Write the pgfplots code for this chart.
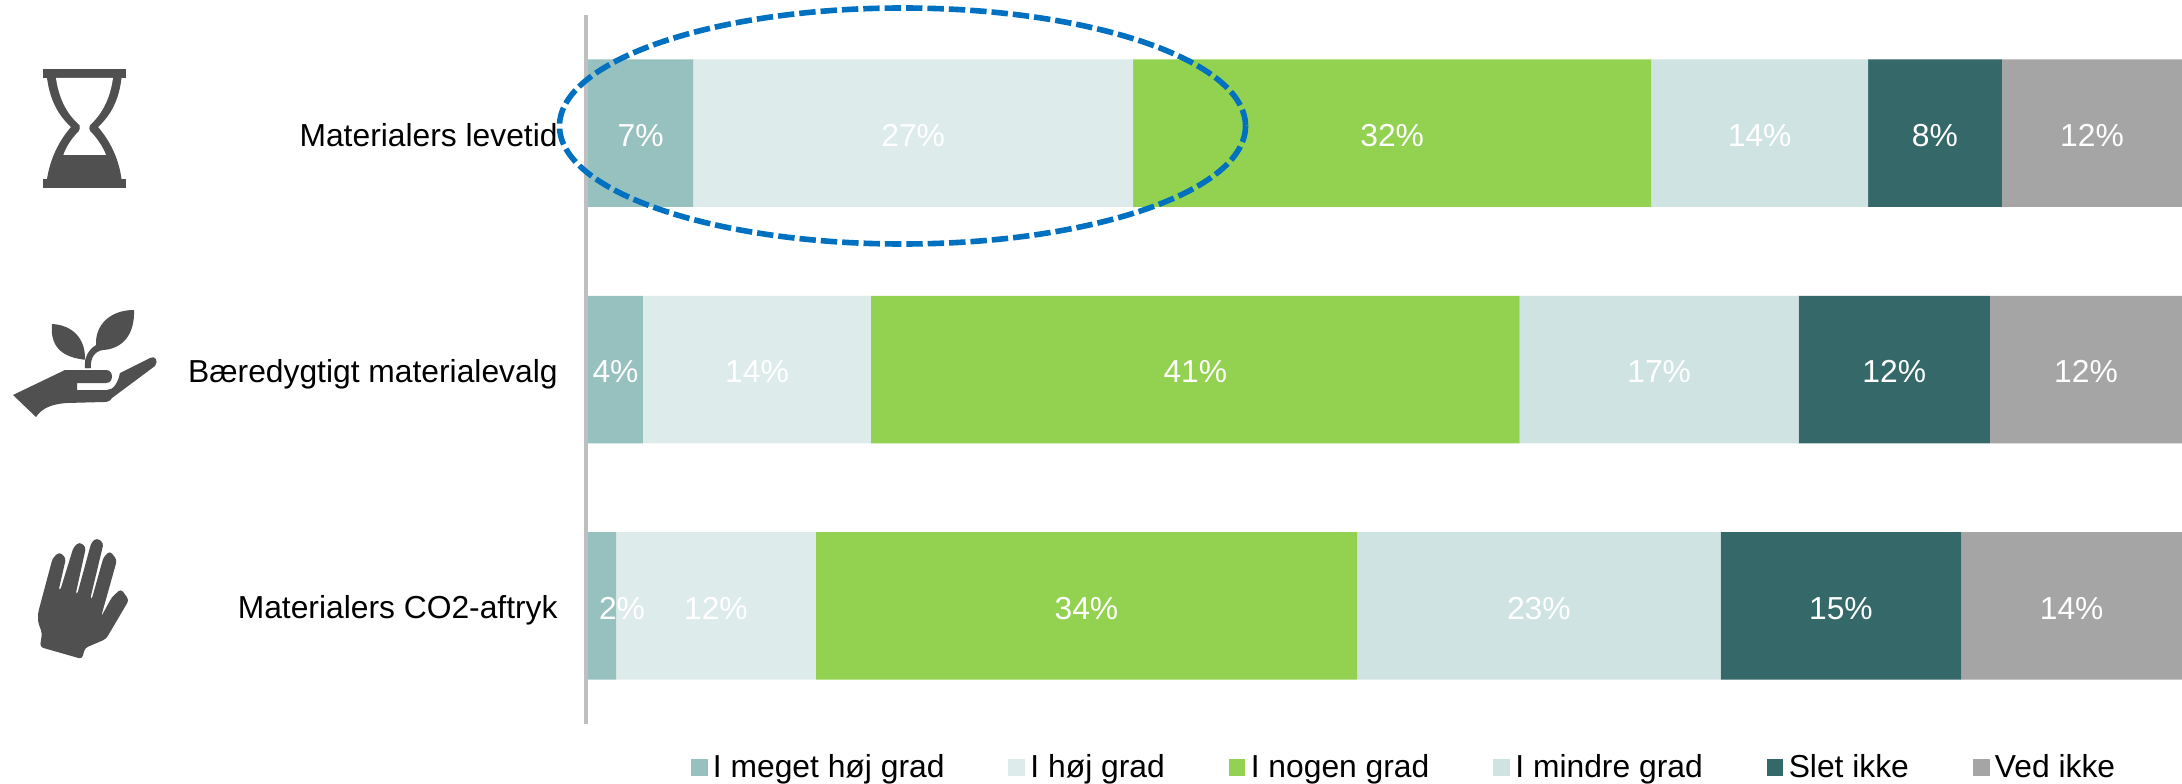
\documentclass[border=0pt]{standalone}
\usepackage{fontspec}
\setmainfont{Liberation Sans}
\usepackage{pgfplots}
\usepackage{pgfplotstable}
\pgfplotsset{compat=1.18}
\definecolor{cA}{HTML}{97C1BF}
\definecolor{cB}{HTML}{DDEBEA}
\definecolor{cC}{HTML}{93D250}
\definecolor{cD}{HTML}{CFE3E2}
\definecolor{cE}{HTML}{356869}
\definecolor{cF}{HTML}{A5A5A5}
\definecolor{ring}{HTML}{0070C0}
\definecolor{icon}{HTML}{505050}
\definecolor{axisgrey}{HTML}{BFBFBF}
% val = share of the bar, y = row, label = printed percentage, dx = label shift in pt
\pgfplotstableread{
val y label dx
6.60 2 7 0
3.45 1 4 0
1.76 0 2 10
}\tA
\pgfplotstableread{
val y label dx
27.60 2 27 0
14.30 1 14 0
12.53 0 12 0
}\tB
\pgfplotstableread{
val y label dx
32.50 2 32 0
40.70 1 41 0
33.96 0 34 0
}\tC
\pgfplotstableread{
val y label dx
13.60 2 14 0
17.50 1 17 0
22.80 0 23 0
}\tD
\pgfplotstableread{
val y label dx
8.40 2 8 0
12.00 1 12 0
15.10 0 15 0
}\tE
\pgfplotstableread{
val y label dx
11.30 2 12 0
12.05 1 12 0
13.85 0 14 0
}\tF
\newcommand{\serie}[2]{\addplot[fill=#1,draw=none] table[x=val,y=y,meta=label] {#2};}
\begin{document}
\begin{tikzpicture}
\path[use as bounding box] (0,0) rectangle (1091pt,391.5pt);
\begin{axis}[
  at={(293pt,29.5pt)}, anchor=south west,
  scale only axis, width=798pt, height=354.5pt,
  xbar stacked, bar width=73.75pt,
  xmin=-0.1255, xmax=100, ymin=-0.5, ymax=2.5,
  axis x line=none, axis y line*=left,
  y axis line style={draw=axisgrey,line width=2.25pt,-},
  ytick={0,1,2},
  yticklabels={Materialers CO2-aftryk,Bæredygtigt materialevalg,Materialers levetid},
  major tick length=0pt, tick style={draw=none},
  yticklabel style={font=\fontsize{15.9}{19}\selectfont,anchor=base east,inner sep=0pt,xshift=-14pt,yshift=-6.5pt},
  point meta=explicit symbolic,
  visualization depends on={\thisrow{dx} \as \mydx},
  nodes near coords={\pgfplotspointmeta\%},
  nodes near coords style={anchor=center,text=white,inner sep=0pt,
    font=\fontsize{15.9}{19}\selectfont,
    xshift=\mydx*1pt,yshift=-1.2pt},
  legend columns=6,
  legend cell align=left,
  legend image code/.code={\fill[#1] (0pt,-4.2pt) rectangle (8.3pt,4.2pt);\path (9pt,0pt);},
  legend style={at={(0.0655,-0.0365)},anchor=north west,draw=none,fill=none,inner sep=0pt,
    font=\fontsize{15.9}{19}\selectfont,
    /tikz/every even column/.append style={column sep=30pt}},
]
\serie{cA}{\tA}
\serie{cB}{\tB}
\serie{cC}{\tC}
\serie{cD}{\tD}
\serie{cE}{\tE}
\serie{cF}{\tF}
\legend{I meget høj grad,I høj grad,I nogen grad,I mindre grad,Slet ikke,Ved ikke}
\end{axis}
\begin{scope}[x=0.5pt,y=-0.5pt,yshift=391.5pt]
  % ring
  \draw[ring,line width=2.8pt,dash pattern=on 8.2pt off 2.5pt] (902.5,126) ellipse [x radius=343,y radius=118];
  % hourglass
  \fill[icon] (43,69) rectangle (126,78);
  \fill[icon] (43,179) rectangle (126,188);
  \fill[icon] (47,78) .. controls (50,100) and (58,115) .. (71,127) .. controls (58,142) and (50,160) .. (47,179)
     -- (121.5,179) .. controls (119,160) and (111,142) .. (98,127) .. controls (111,115) and (119,100) .. (121.5,78) -- cycle;
  \fill[white] (56,78) .. controls (59,100) and (68,115) .. (79.5,125) .. controls (80,128) and (80,129) .. (79,131)
     .. controls (72,138) and (66,147) .. (63.4,155) -- (106,155) .. controls (103,147) and (97,138) .. (90,131)
     .. controls (89,129) and (89,128) .. (90,125) .. controls (101,115) and (110,100) .. (113,78) -- cycle;
  % plant in hand
  \fill[icon] (52,324) .. controls (72,325) and (85,338) .. (85,358) -- (85,368) -- (90,368) -- (88,360)
     .. controls (60,358) and (50,345) .. (52,324) -- cycle;
  \fill[icon] (134,310) .. controls (135,335) and (122,349) .. (103,350) .. controls (95,351) and (90,358) .. (91,368)
     -- (85,368) .. controls (84,358) and (88,350) .. (96,345) .. controls (95,325) and (110,310) .. (134,310) -- cycle;
  \fill[icon] (13,395) -- (65,370) -- (106,370) .. controls (114,370) and (114,383) .. (106,383) -- (77,383) -- (77,390)
     -- (107,390) .. controls (114,390) and (118,382) .. (120,373) -- (150,358) .. controls (155,355) and (159,361) .. (155,366)
     -- (112,398) .. controls (110,401) and (108,402) .. (104,402) -- (67,403) .. controls (52,404) and (42,408) .. (36,417) -- cycle;
  % hand
  \fill[icon,rounded corners=1.6pt] (40,647) -- (82,659) -- (85,648) -- (106,639) -- (129,600) -- (121,589) -- (112,597) -- (101,617)
     -- (117,560) -- (110,551) -- (103.6,557) -- (91.5,600) -- (90,600) -- (103.6,543) -- (97,538) -- (91.5,542) -- (77,595) -- (75.5,595)
     -- (86,547) -- (79.5,542) -- (73.6,547) -- (60,591) -- (58.5,591) -- (66,558) -- (59.4,552) -- (52.7,558) -- (38,613) -- (38,622) -- (42,633) -- cycle;
\end{scope}
\end{tikzpicture}
\end{document}
